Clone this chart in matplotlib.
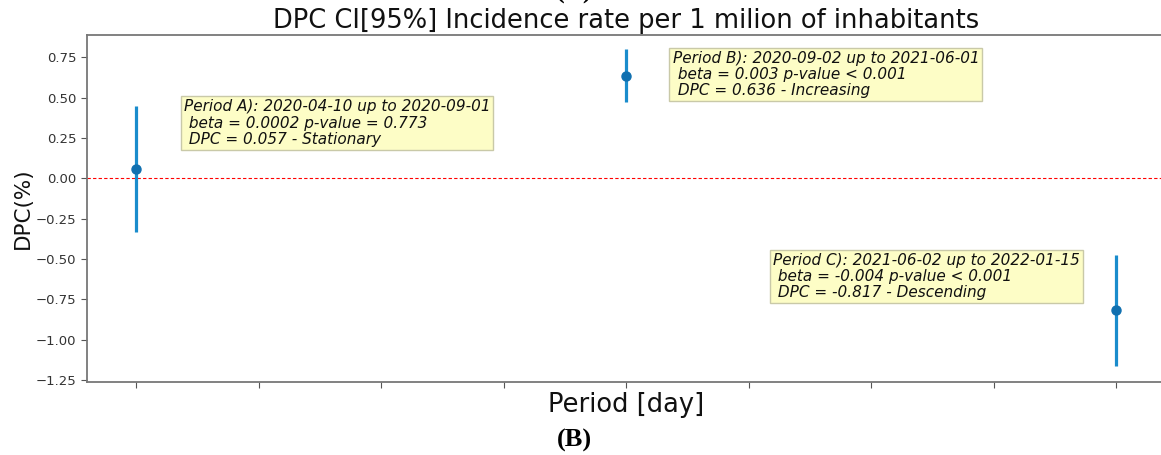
import matplotlib.pyplot as plt
import numpy as np

# DPC per period with 95% CI half-widths
periods = ['A', 'B', 'C']
pos = [0, 4, 8]
dpc = [0.057, 0.636, -0.817]
ci = [0.39, 0.165, 0.345]

notes = [
    'Period A): 2020-04-10 up to 2020-09-01\n beta = 0.0002 p-value = 0.773\n DPC = 0.057 - Stationary',
    'Period B): 2020-09-02 up to 2021-06-01\n beta = 0.003 p-value < 0.001\n DPC = 0.636 - Increasing',
    'Period C): 2021-06-02 up to 2022-01-15\n beta = -0.004 p-value < 0.001\n DPC = -0.817 - Descending',
]
note_xy = [(0.39, 0.49), (4.38, 0.79), (5.2, -0.46)]

fig = plt.figure(figsize=(11.61, 4.55), dpi=100)
ax = fig.add_axes([87/1161, 73/455, 1078/1161, 347/455])

ax.axhline(0, color='red', lw=0.8, ls=(0, (3, 2)))
ax.errorbar(pos, dpc, yerr=ci, fmt='o', color='#1070b0', ecolor='#1a8ccc',
            elinewidth=2.3, markersize=6.5)

for txt, (x, y) in zip(notes, note_xy):
    ax.text(x, y, txt, fontsize=11, style='italic', va='top', ha='left',
            color='#111111', linespacing=1.1,
            bbox=dict(boxstyle='square,pad=0.2', fc='#fdfdc6', ec='#c9c9a8', lw=1))

ax.set_xlim(-0.4, 8.4)
ax.set_ylim(-1.262, 0.889)
ax.set_xticks(np.arange(9))
ax.set_xticklabels([])
ax.set_yticks([0.75, 0.5, 0.25, 0, -0.25, -0.5, -0.75, -1.0, -1.25])
ax.tick_params(colors='#555555', labelcolor='#333333', labelsize=9.5, length=4)
for s in ax.spines.values():
    s.set_color('#777777')
    s.set_linewidth(1.3)

ax.set_title('DPC CI[95%] Incidence rate per 1 milion of inhabitants',
             fontsize=18.5, color='#111111', pad=5)
ax.set_xlabel('Period [day]', fontsize=18.5, color='#111111', labelpad=0)
ax.set_ylabel('DPC(%)', fontsize=15.5, color='#111111')
ax.yaxis.set_label_coords(-0.05, 0.5)

# panel captions
fig.text(574/1161, 1 + 19/455, '(A)', ha='center', va='top', fontsize=19,
         family='Liberation Serif', weight='bold')
fig.text(574/1161, 1 - 440/455, '(B)', ha='center', va='center', fontsize=19,
         family='Liberation Serif', weight='bold')

fig.savefig('out.png', dpi=100)
